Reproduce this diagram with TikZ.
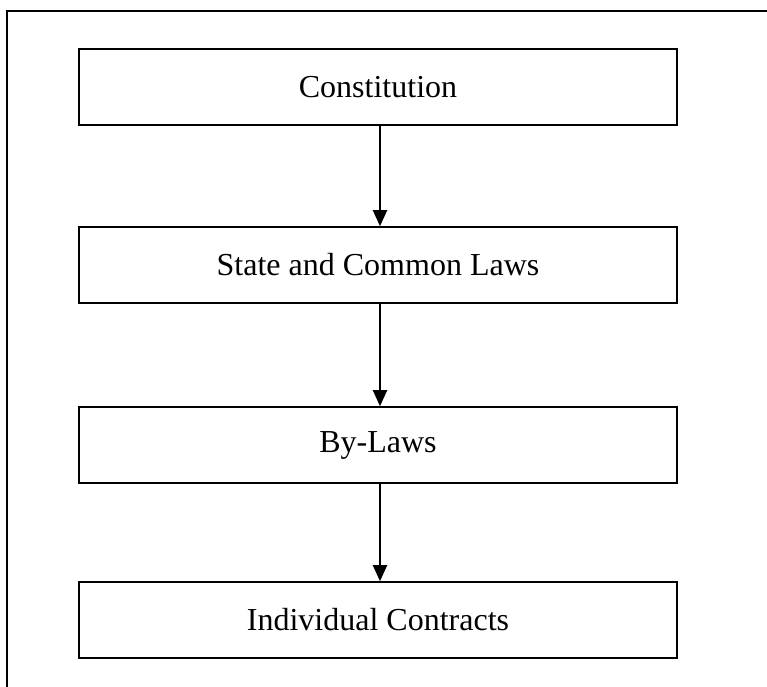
\documentclass[tikz,border=0pt]{standalone}
\usepackage{fontspec}
\setmainfont{Liberation Serif}
\usetikzlibrary{arrows.meta}
\begin{document}
\begin{tikzpicture}[x=1pt,y=1pt,
  lawbox/.style={draw=black, line width=1.6pt, minimum width=598pt, minimum height=76pt,
    inner sep=0pt, font=\fontsize{32}{38}\selectfont, fill=white},
  flow/.style={line width=2pt, -{Triangle[width=14pt,length=16pt]}}]
\useasboundingbox (0,0) rectangle (767,-686);
\clip (0,0) rectangle (767,-686);
\fill[white] (0,0) rectangle (767,-686);
\draw[line width=2pt] (7,-700) -- (7,-11) -- (800,-11);
\node[lawbox] (con) at (378,-87) {Constitution};
\node[lawbox] (sta) at (378,-265) {State and Common Laws};
\node[lawbox] (byl) at (378,-445) {By-Laws};
\node[lawbox] (ind) at (378,-620) {Individual Contracts};
\draw[flow] ([xshift=2pt]con.south) -- ([xshift=2pt]sta.north);
\draw[flow] ([xshift=2pt]sta.south) -- ([xshift=2pt]byl.north);
\draw[flow] ([xshift=2pt]byl.south) -- ([xshift=2pt]ind.north);
\end{tikzpicture}
\end{document}
